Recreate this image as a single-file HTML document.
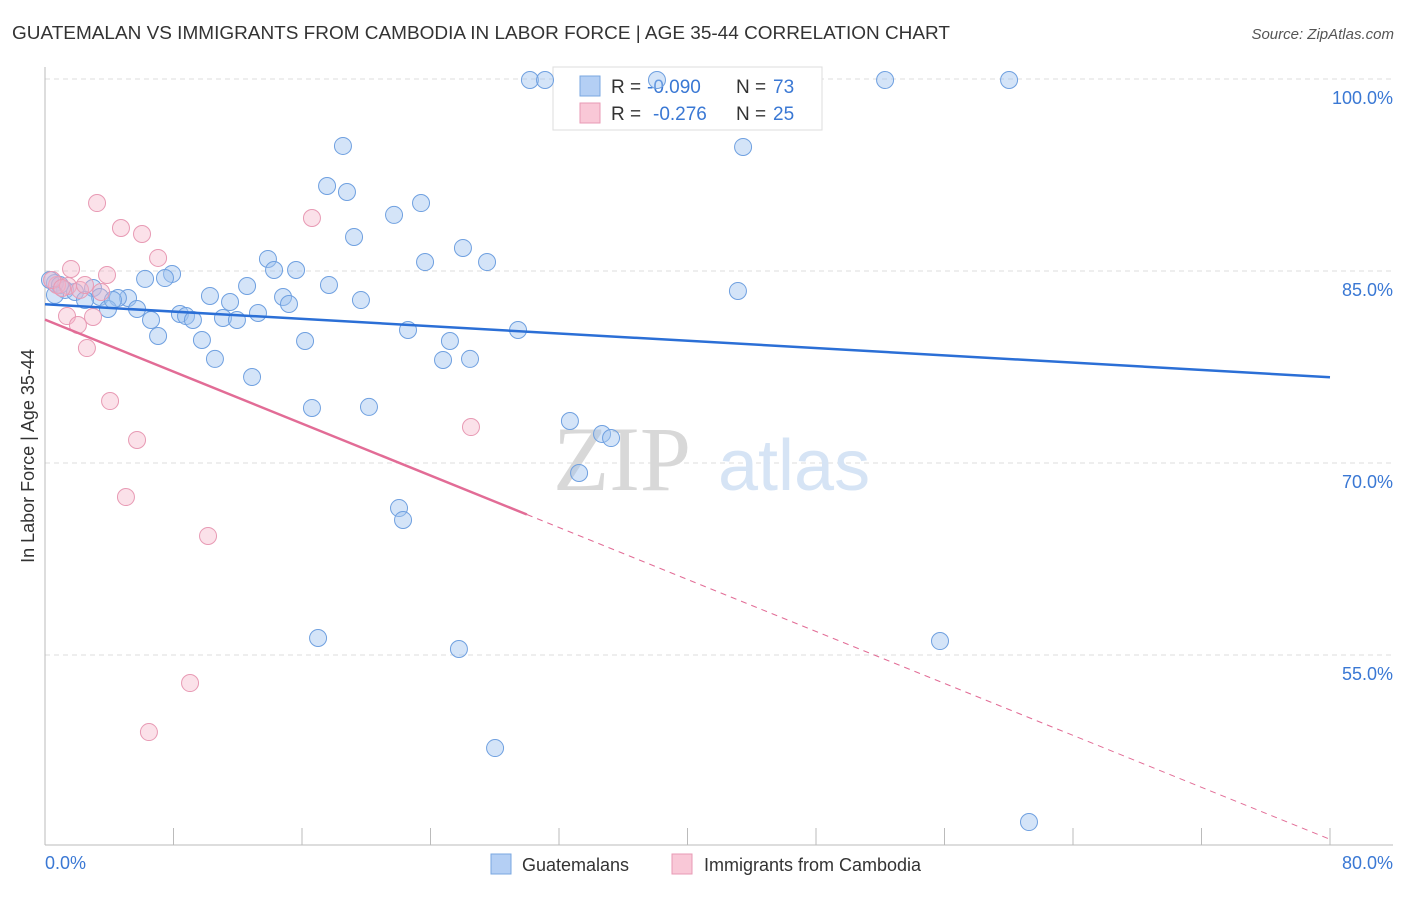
<!DOCTYPE html>
<html><head><meta charset="utf-8"><style>
body{margin:0;background:#fff;font-family:"Liberation Sans",sans-serif;}
</style></head><body>
<svg width="1406" height="892" xmlns="http://www.w3.org/2000/svg">
<text x="12" y="39" font-size="18" fill="#333" textLength="938" lengthAdjust="spacingAndGlyphs">GUATEMALAN VS IMMIGRANTS FROM CAMBODIA IN LABOR FORCE | AGE 35-44 CORRELATION CHART</text>
<text x="1394" y="39" font-size="15" fill="#555" font-style="italic" text-anchor="end">Source: ZipAtlas.com</text>
<g id="grid"></g>
<text x="553" y="490" font-size="92" fill="#d8d8d8" font-family="Liberation Serif">ZIP</text>
<text x="718" y="490" font-size="72" fill="#d6e4f5">atlas</text>
<line x1="45" y1="67" x2="45" y2="845" stroke="#bbb"/>
<line x1="45" y1="845" x2="1393" y2="845" stroke="#bbb"/>
<g id="ticks"></g>
<g>
<rect x="553" y="67" width="269" height="63" fill="#fff" stroke="#ddd"/>
<rect x="580" y="76" width="20" height="20" fill="#b4cff4" stroke="#7aa7e0"/>
<rect x="580" y="103" width="20" height="20" fill="#f9c8d7" stroke="#e89ab4"/>
<text x="611" y="93" font-size="19" fill="#333">R =</text>
<text x="647" y="93" font-size="19" fill="#3a78d4">-0.090</text>
<text x="736" y="93" font-size="19" fill="#333">N =</text>
<text x="773" y="93" font-size="19" fill="#3a78d4">73</text>
<text x="611" y="120" font-size="19" fill="#333">R =</text>
<text x="653" y="120" font-size="19" fill="#3a78d4">-0.276</text>
<text x="736" y="120" font-size="19" fill="#333">N =</text>
<text x="773" y="120" font-size="19" fill="#3a78d4">25</text>
</g>
<g id="pts"></g>
<g id="lines"></g>
<text x="34" y="456" font-size="18" fill="#333" text-anchor="middle" transform="rotate(-90 34 456)">In Labor Force | Age 35-44</text>
<text x="45" y="869" font-size="18" fill="#3a78d4">0.0%</text>
<text x="1393" y="869" font-size="18" fill="#3a78d4" text-anchor="end">80.0%</text>
<g><rect x="491" y="854" width="20" height="20" fill="#b4cff4" stroke="#7aa7e0"/><text x="522" y="871" font-size="18" fill="#333">Guatemalans</text></g>
<g><rect x="672" y="854" width="20" height="20" fill="#f9c8d7" stroke="#e89ab4"/><text x="704" y="871" font-size="18" fill="#333">Immigrants from Cambodia</text></g>
</svg>
<script>
const yTicks=[100,85,70,55];
const yTickLabels=["100.0%","85.0%","70.0%","55.0%"];
const xTicks=[0,8,16,24,32,40,48,56,64,72,80];
const bluePx=[[530,80],[545,80],[657,80],[885,80],[1009,80],[343,146],[743,147],[327,186],[347,192],[421,203],[394,215],[354,237],[463,248],[268,259],[425,262],[487,262],[274,270],[296,270],[172,274],[145,279],[165,278],[247,286],[329,285],[738,291],[55,283],[65,290],[93,288],[100,297],[128,298],[118,298],[210,296],[283,297],[361,300],[230,302],[289,304],[108,309],[137,309],[151,320],[180,314],[186,316],[193,320],[223,318],[237,320],[258,313],[408,330],[518,330],[158,336],[202,340],[305,341],[450,341],[443,360],[470,359],[215,359],[252,377],[312,408],[369,407],[570,421],[602,434],[611,438],[579,473],[399,508],[403,520],[318,638],[459,649],[940,641],[495,748],[1029,822],[50,280],[60,285],[75,292],[85,300],[113,300],[55,295]];
const pinkPx=[[97,203],[312,218],[121,228],[142,234],[158,258],[71,269],[107,275],[57,285],[68,286],[80,290],[101,292],[67,316],[93,317],[78,325],[87,348],[110,401],[137,440],[471,427],[126,497],[208,536],[190,683],[149,732],[52,280],[62,288],[85,285]];
const blueX=bluePx.map(p=>+((p[0]-45)/16.0625).toFixed(2));
const blueY=bluePx.map(p=>+(100-(p[1]-79)/12.8).toFixed(2));
const pinkX=pinkPx.map(p=>+((p[0]-45)/16.0625).toFixed(2));
const pinkY=pinkPx.map(p=>+(100-(p[1]-79)/12.8).toFixed(2));
const blueTrend=[82.4,76.7];
const pinkTrend=[81.2,40.6];
const pinkSolidEnd=30;
const sx=v=>45+v*16.0625, sy=v=>79+(100-v)*12.8;
const NS="http://www.w3.org/2000/svg";
function mk(t,a,p){const e=document.createElementNS(NS,t);for(const k in a)e.setAttribute(k,a[k]);document.getElementById(p).appendChild(e);return e;}
yTicks.forEach((v,i)=>{
 const l=mk('line',{x1:45,x2:1393,y1:sy(v),y2:sy(v),stroke:'#ddd','stroke-dasharray':'5,4'},'grid');
 
 
 const t=mk('text',{x:1393,y:sy(v)+25,'font-size':18,fill:'#3a78d4','text-anchor':'end'},'grid');t.textContent=yTickLabels[i];
 
 
});
xTicks.forEach(v=>{const l=mk('line',{x1:sx(v),x2:sx(v),y1:828,y2:845,stroke:'#bbb'},'ticks');
 
 });
blueX.forEach((x,i)=>{const c=mk('circle',{cx:sx(x),cy:sy(blueY[i]),r:8.5,fill:'rgba(160,196,240,0.45)',stroke:'#6fa0e0','stroke-width':1},'pts');
 
 });
pinkX.forEach((x,i)=>{const c=mk('circle',{cx:sx(x),cy:sy(pinkY[i]),r:8.5,fill:'rgba(245,180,200,0.4)',stroke:'#e89ab4','stroke-width':1},'pts');
 
 });
const bt=mk('line',{x1:sx(0),y1:sy(blueTrend[0]),x2:sx(80),y2:sy(blueTrend[1]),stroke:'#2b6fd6','stroke-width':2.5},'lines');


const py=x=>pinkTrend[0]+(pinkTrend[1]-pinkTrend[0])*x/80;
const pt=mk('line',{x1:sx(0),y1:sy(py(0)),x2:sx(pinkSolidEnd),y2:sy(py(pinkSolidEnd)),stroke:'#e26c96','stroke-width':2.5},'lines');


const pd=mk('line',{x1:sx(pinkSolidEnd),y1:sy(py(pinkSolidEnd)),x2:sx(80),y2:sy(py(80)),stroke:'#e26c96','stroke-width':1,'stroke-dasharray':'6,5'},'lines');


</script>
</body></html>
